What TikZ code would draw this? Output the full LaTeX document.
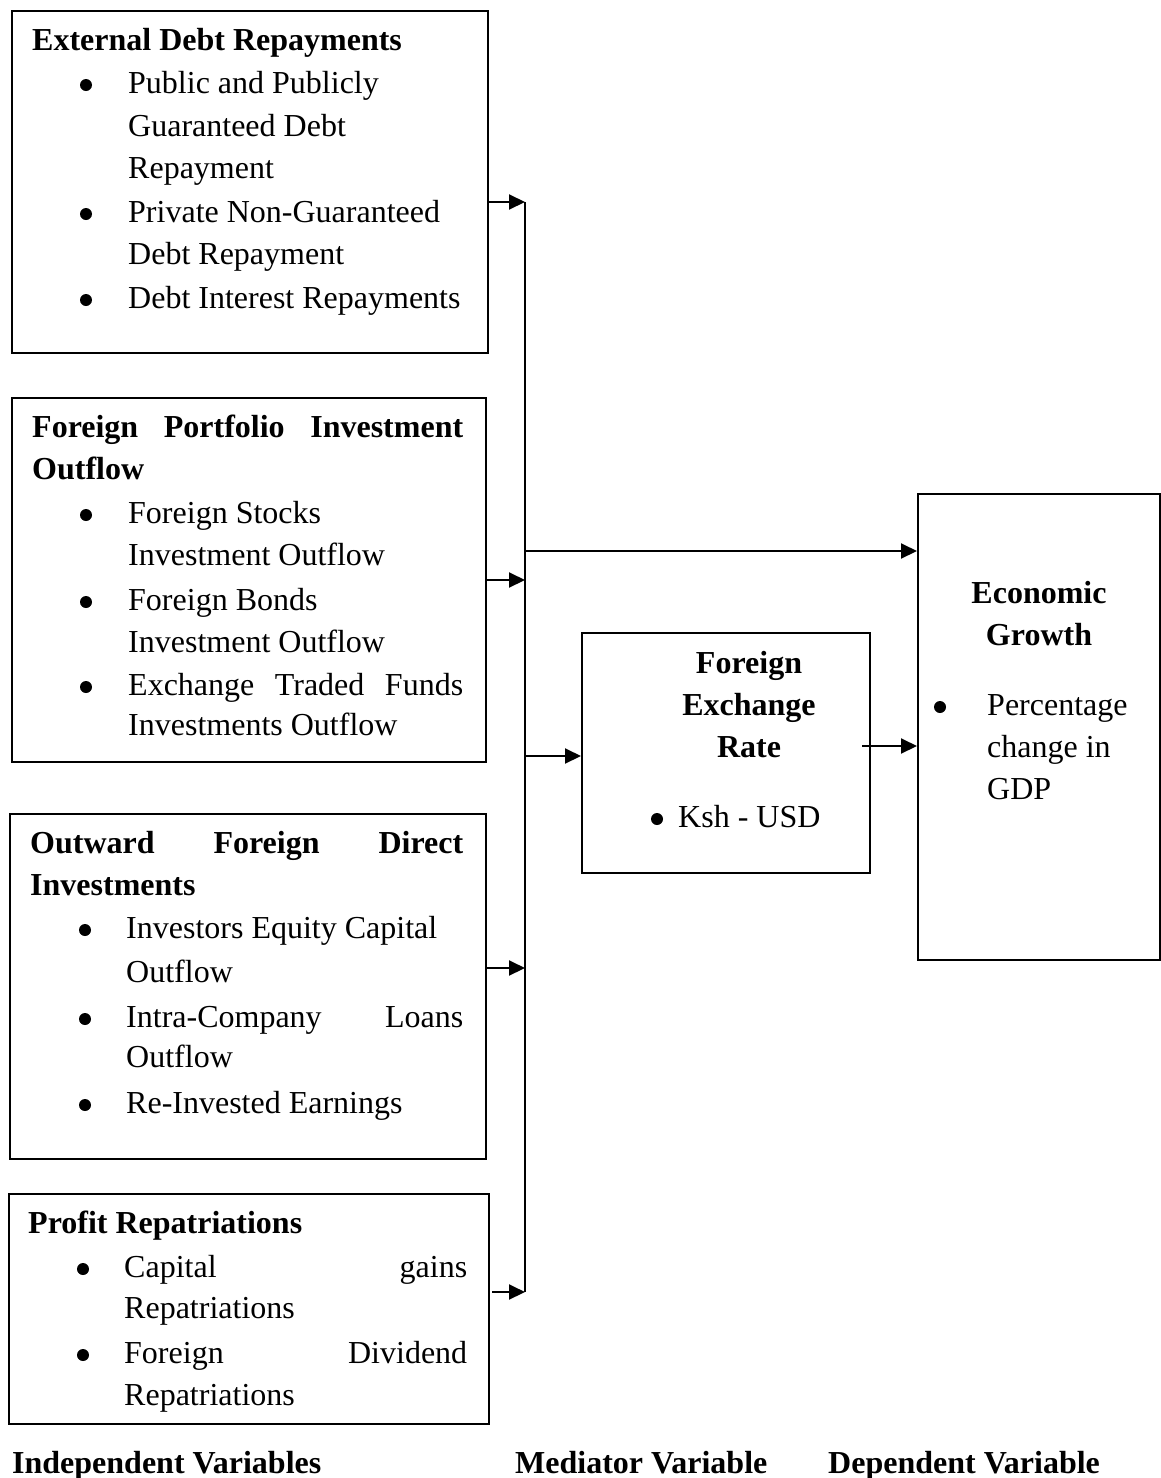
\documentclass[tikz,border=0pt]{standalone}
\usepackage{fontspec}
\setmainfont{Liberation Serif}
\usetikzlibrary{arrows.meta}
\begin{document}
\begin{tikzpicture}[x=1pt,y=-1pt,
  box/.style={draw, line width=2pt, rectangle, inner sep=0pt, anchor=north west},
  txt/.style={inner sep=0pt, anchor=base west, font=\fontsize{32pt}{43pt}\selectfont},
  ttl/.style={txt, font=\fontsize{32pt}{43pt}\selectfont\bfseries},
  ctl/.style={ttl, anchor=base},
  bul/.style={circle, fill=black, inner sep=0pt, minimum size=12pt},
  conn/.style={line width=2pt},
  arr/.style={line width=2pt, -{Triangle[length=16pt,width=15pt]}}]
\useasboundingbox (0,0) rectangle (1160,1478);

% ---- Box 1
\node[box, minimum width=476pt, minimum height=342pt] (b1) at (11,10) {};
\node[ttl] (b1t) at (32,50) {External Debt Repayments};
\node[bul] (b1u1) at (86,85) {};
\node[bul] (b1u2) at (86,214) {};
\node[bul] (b1u3) at (86,300) {};
\node[txt] (b1l1) at (128,93) {Public and Publicly};
\node[txt] (b1l2) at (128,136) {Guaranteed Debt};
\node[txt] (b1l3) at (128,178) {Repayment};
\node[txt] (b1l4) at (128,222) {Private Non-Guaranteed};
\node[txt] (b1l5) at (128,264) {Debt Repayment};
\node[txt] (b1l6) at (128,308) {Debt Interest Repayments};

% ---- Box 2
\node[box, minimum width=474pt, minimum height=364pt] (b2) at (11,397) {};
\node[ttl] (b2t1) at (32,437) {\makebox[431pt][s]{Foreign Portfolio Investment}};
\node[ttl] (b2t2) at (32,479) {Outflow};
\node[bul] (b2u1) at (86,515) {};
\node[bul] (b2u2) at (86,602) {};
\node[bul] (b2u3) at (86,687) {};
\node[txt] (b2l1) at (128,523) {Foreign Stocks};
\node[txt] (b2l2) at (128,565) {Investment Outflow};
\node[txt] (b2l3) at (128,610) {Foreign Bonds};
\node[txt] (b2l4) at (128,652) {Investment Outflow};
\node[txt] (b2l5) at (128,695) {\makebox[335pt][s]{Exchange Traded Funds}};
\node[txt] (b2l6) at (128,735) {Investments Outflow};

% ---- Box 3
\node[box, minimum width=476pt, minimum height=345pt] (b3) at (9,813) {};
\node[ttl] (b3t1) at (30,853) {\makebox[433pt][s]{Outward Foreign Direct}};
\node[ttl] (b3t2) at (30,895) {Investments};
\node[bul] (b3u1) at (85,930) {};
\node[bul] (b3u2) at (85,1019) {};
\node[bul] (b3u3) at (85,1105) {};
\node[txt] (b3l1) at (126,938) {Investors Equity Capital};
\node[txt] (b3l2) at (126,982) {Outflow};
\node[txt] (b3l3) at (126,1027) {\makebox[337pt][s]{Intra-Company Loans}};
\node[txt] (b3l4) at (126,1067) {Outflow};
\node[txt] (b3l5) at (126,1113) {Re-Invested Earnings};

% ---- Box 4
\node[box, minimum width=480pt, minimum height=230pt] (b4) at (8,1193) {};
\node[ttl] (b4t) at (28,1233) {Profit Repatriations};
\node[bul] (b4u1) at (83,1269) {};
\node[bul] (b4u2) at (83,1355) {};
\node[txt] (b4l1) at (124,1277) {\makebox[343pt][s]{Capital gains}};
\node[txt] (b4l2) at (124,1318) {Repatriations};
\node[txt] (b4l3) at (124,1363) {\makebox[343pt][s]{Foreign Dividend}};
\node[txt] (b4l4) at (124,1405) {Repatriations};

% ---- Mediator
\node[box, minimum width=288pt, minimum height=240pt] (bm) at (581,632) {};
\node[ctl] (bmt1) at (749,673) {Foreign};
\node[ctl] (bmt2) at (749,715) {Exchange};
\node[ctl] (bmt3) at (749,757) {Rate};
\node[bul] (bmu) at (657,819) {};
\node[txt] (bml) at (678,827) {Ksh - USD};

% ---- Dependent
\node[box, minimum width=242pt, minimum height=466pt] (bd) at (917,493) {};
\node[ctl] (bdt1) at (1039,603) {Economic};
\node[ctl] (bdt2) at (1039,645) {Growth};
\node[bul] (bdu) at (940,707) {};
\node[txt] (bdl1) at (987,715) {Percentage};
\node[txt] (bdl2) at (987,757) {change in};
\node[txt] (bdl3) at (987,799) {GDP};

% ---- Bottom labels
\node[ttl] (lab1) at (12,1473) {Independent Variables};
\node[ttl] (lab2) at (515,1473) {Mediator Variable};
\node[ttl] (lab3) at (828,1473) {Dependent Variable};

% ---- Connectors
\coordinate (j1) at (525,202);
\coordinate (j2) at (525,580);
\coordinate (j3) at (525,968);
\coordinate (j4) at (525,1292);
\coordinate (j5) at (525,551);
\coordinate (j6) at (525,756);
\coordinate (m7) at (862,746);

\draw[conn] (j1) -- (j4);
\draw[arr] (b1.east |- j1) -- (j1);
\draw[arr] (b2.east |- j2) -- (j2);
\draw[arr] (b3.east |- j3) -- (j3);
\draw[arr] ([xshift=2pt]b4.east |- j4) -- (j4);
\draw[arr] (j5) -- (bd.west |- j5);
\draw[arr] (j6) -- (bm.west |- j6);
\draw[arr] (m7) -- (bd.west |- m7);
\end{tikzpicture}
\end{document}
